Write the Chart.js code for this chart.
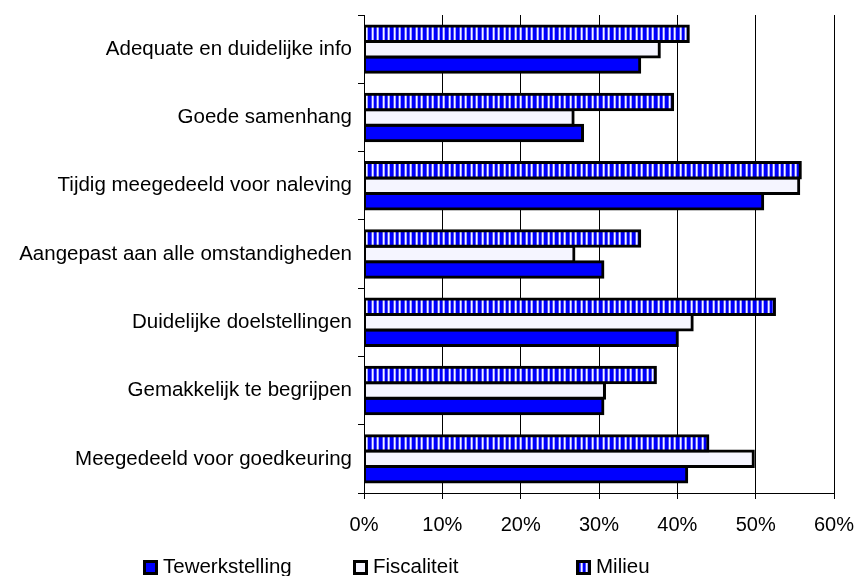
<!DOCTYPE html>
<html>
<head>
<meta charset="utf-8">
<script src="https://cdn.jsdelivr.net/npm/chart.js@4"></script>
<style>
html,body{margin:0;padding:0;background:#fff;}
#wrap{width:858px;height:576px;position:relative;}
</style>
</head>
<body>
<div id="wrap"><canvas id="c"></canvas></div>
<script>
const categories = [
  'Adequate en duidelijke info',
  'Goede samenhang',
  'Tijdig meegedeeld voor naleving',
  'Aangepast aan alle omstandigheden',
  'Duidelijke doelstellingen',
  'Gemakkelijk te begrijpen',
  'Meegedeeld voor goedkeuring'
];
const tewerkstelling = [35.2, 27.9, 50.9, 30.5, 40.0, 30.5, 41.2];
const fiscaliteit    = [37.7, 26.7, 55.5, 26.8, 41.9, 30.7, 49.7];
const milieu         = [41.4, 39.4, 55.7, 35.2, 52.4, 37.2, 43.9];
const xTicks = [0, 10, 20, 30, 40, 50, 60];
const legendOrder = ['Tewerkstelling', 'Fiscaliteit', 'Milieu'];

const FONT = '"Liberation Sans", Arial, Helvetica, sans-serif';

// striped pattern for Milieu
function makeStripe() {
  const cv = document.createElement('canvas');
  cv.width = 11; cv.height = 4;
  const g = cv.getContext('2d');
  const cols = ['#0000ff','#0000ee','#5050ff','#f4f4ff','#a0a0ff','#0000ff','#0000ff','#0000ee','#5050ff','#f4f4ff','#a0a0ff'];
  cols.forEach((c, i) => { g.fillStyle = c; g.fillRect(i, 0, 1, 4); });
  return g.createPattern(cv, 'repeat');
}
const stripe = makeStripe();

const legendPlugin = {
  id: 'customLegend',
  afterDraw(chart) {
    const ctx = chart.ctx;
    const pos = {Tewerkstelling: 143, Fiscaliteit: 353, Milieu: 576};
    ctx.save();
    ctx.font = '20.5px ' + FONT;
    ctx.textBaseline = 'alphabetic';
    ctx.textAlign = 'left';
    legendOrder.forEach(name => {
      const ds = chart.data.datasets.find(d => d.label === name);
      const x = pos[name];
      ctx.fillStyle = '#000';
      ctx.fillRect(x, 560, 15, 15);
      ctx.fillStyle = ds.backgroundColor;
      ctx.fillRect(x + 3, 563, 9, 9);
      ctx.fillStyle = '#000';
      ctx.fillText(name, x + 20, 573);
    });
    ctx.restore();
  }
};

new Chart(document.getElementById('c'), {
  type: 'bar',
  data: {
    labels: categories,
    datasets: [
      {label: 'Milieu', data: milieu, backgroundColor: stripe},
      {label: 'Fiscaliteit', data: fiscaliteit, backgroundColor: '#f5f5ff'},
      {label: 'Tewerkstelling', data: tewerkstelling, backgroundColor: '#0000ff'}
    ]
  },
  options: {
    indexAxis: 'y',
    responsive: true,
    maintainAspectRatio: false,
    animation: false,
    layout: {padding: {top: 15, right: 24, left: 0, bottom: 0}},
    datasets: {
      bar: {
        borderColor: '#000',
        borderWidth: 3,
        borderSkipped: false,
        inflateAmount: 1.5,
        barPercentage: 1.0,
        categoryPercentage: 0.68
      }
    },
    plugins: {
      legend: {display: false},
      tooltip: {enabled: false}
    },
    scales: {
      x: {
        min: 0, max: 60,
        afterBuildTicks(scale) { scale.ticks = xTicks.map(v => ({value: v})); },
        afterFit(scale) { scale.height = 83; scale.paddingRight = 0; scale.paddingLeft = 0; },
        grid: {color: '#000', lineWidth: 1, tickLength: 6, drawTicks: true},
        border: {display: true, color: '#000', width: 1},
        ticks: {
          color: '#000',
          font: {family: FONT, size: 20},
          padding: 14,
          maxRotation: 0,
          callback: v => v + '%'
        }
      },
      y: {
        afterFit(scale) { scale.width = 364; scale.paddingTop = 0; scale.paddingBottom = 0; },
        grid: {drawOnChartArea: false, drawTicks: true, tickLength: 6, color: '#000', offset: true},
        border: {display: true, color: '#000', width: 1},
        ticks: {
          color: '#000',
          font: {family: FONT, size: 20.5},
          padding: 6
        }
      }
    }
  },
  plugins: [legendPlugin]
});
</script>
</body>
</html>
